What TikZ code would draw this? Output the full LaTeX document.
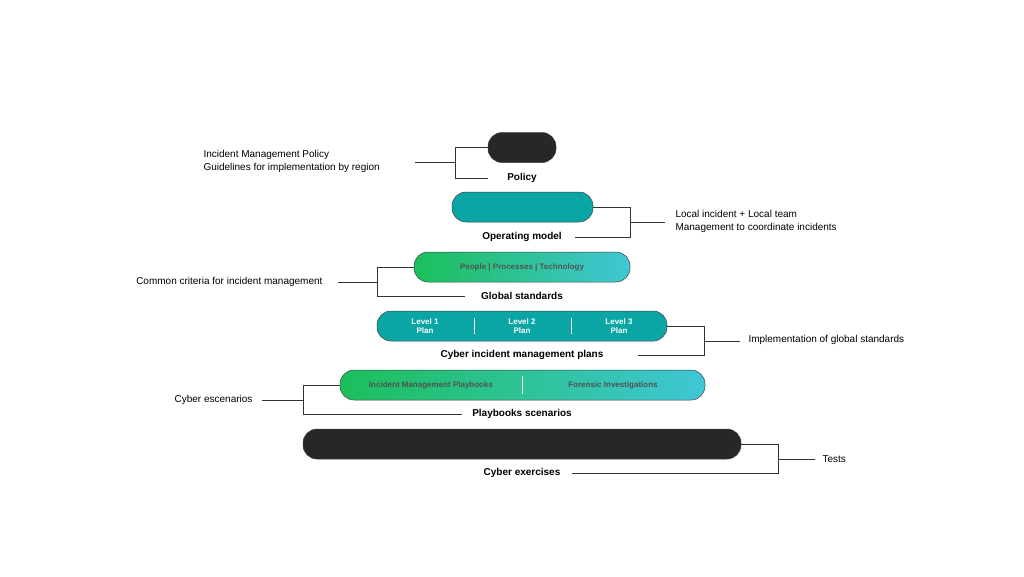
\documentclass[tikz,border=0pt]{standalone}
\usepackage{fontspec}
\setmainfont{Liberation Sans}
\usetikzlibrary{calc}
\definecolor{barTeal}{HTML}{0AA5A5}
\definecolor{barDark}{HTML}{272727}
\definecolor{barGreen}{HTML}{1CBF5A}
\definecolor{barCyan}{HTML}{40C6D6}
\tikzset{
  bar/.style={rounded corners=14pt,draw=black!75,line width=0.5pt,minimum height=30pt,inner sep=0pt},
  darkbar/.style={bar,fill=barDark},
  tealbar/.style={bar,fill=barTeal},
  gradbar/.style={bar,left color=barGreen,right color=barCyan},
  barlabel/.style={font=\bfseries\fontsize{10}{12}\selectfont},
  inbar/.style={font=\bfseries\fontsize{8}{9.5}\selectfont,align=center},
  sidenote/.style={font=\fontsize{10}{13}\selectfont,align=left},
  bracket/.style={line width=1pt,black!80}
}
\begin{document}
\begin{tikzpicture}[x=1pt,y=-1pt]
  \useasboundingbox (0,0) rectangle (1024,576);

  %% The stacked bars
  \node[darkbar,minimum width=68pt]  (POL)  at (522,147.5) {};
  \node[tealbar,minimum width=141pt] (OPM)  at (522.5,207) {};
  \node[gradbar,minimum width=216pt] (GLOB) at (522,267) {};
  \node[tealbar,minimum width=290pt] (PLAN) at (522,326) {};
  \node[gradbar,minimum width=365pt] (BOOK) at (522.5,385) {};
  \node[darkbar,minimum width=438pt] (EXER) at (522,444) {};

  %% Titles under the bars
  \node[barlabel] (POLlbl)  at (522,178) {Policy};
  \node[barlabel] (OPMlbl)  at (522,237) {Operating model};
  \node[barlabel] (GLOBlbl) at (522,296) {Global standards};
  \node[barlabel] (PLANlbl) at (522,355) {Cyber incident management plans};
  \node[barlabel] (BOOKlbl) at (522,414) {Playbooks scenarios};
  \node[barlabel] (EXERlbl) at (522,473) {Cyber exercises};

  %% Texts inside the bars
  \node[inbar,text=barDark!80] (GLOBtxt) at (GLOB) {People | Processes | Technology};
  \foreach \lv/\px in {1/425,2/522,3/619}
    \node[inbar,text=white] (PLANlv\lv) at (\px,326) {Level \lv\\Plan};
  \foreach \px in {474,571}
    \draw[white,line width=0.8pt] (\px,318) -- (\px,334);
  \node[inbar,text=barDark!80] (BOOKa) at (431,385) {Incident Management Playbooks};
  \node[inbar,text=barDark!80] (BOOKb) at (613,385) {Forensic Investigations};
  \draw[white,line width=0.8pt] (522,376) -- (522,394);

  %% Side notes
  \node[sidenote,anchor=west] (POLnote) at (200,161) {Incident Management Policy\\Guidelines for implementation by region};
  \node[sidenote,anchor=west] (OPMnote) at (672,221) {Local incident + Local team\\Management to coordinate incidents};
  \node[sidenote,anchor=east] (GLOBnote) at (326,282) {Common criteria for incident management};
  \node[sidenote,anchor=west] (PLANnote) at (745,340) {Implementation of global standards};
  \node[sidenote,anchor=east] (BOOKnote) at (256,400) {Cyber escenarios};
  \node[sidenote,anchor=west] (EXERnote) at (819,459) {Tests};

  %% Brackets on the left and on the right
  \foreach \bar/\lbl/\bx/\lx/\nx/\side in {POL/POLlbl/455/488/415/west, GLOB/GLOBlbl/377/465/338/west,
    BOOK/BOOKlbl/303/462/262/west, OPM/OPMlbl/630/575/665/east, PLAN/PLANlbl/704/638/740/east,
    EXER/EXERlbl/778/572/815/east}
  {
    \coordinate (BK) at (\bx,0);
    \coordinate (LK) at (\lx,0);
    \coordinate (NK) at (\nx,0);
    \draw[bracket] (\bar.\side) -| (BK|-\lbl) -- (LK|-\lbl);
    \draw[bracket] (NK|-\bar.south) -- (BK|-\bar.south);
  }
\end{tikzpicture}
\end{document}
